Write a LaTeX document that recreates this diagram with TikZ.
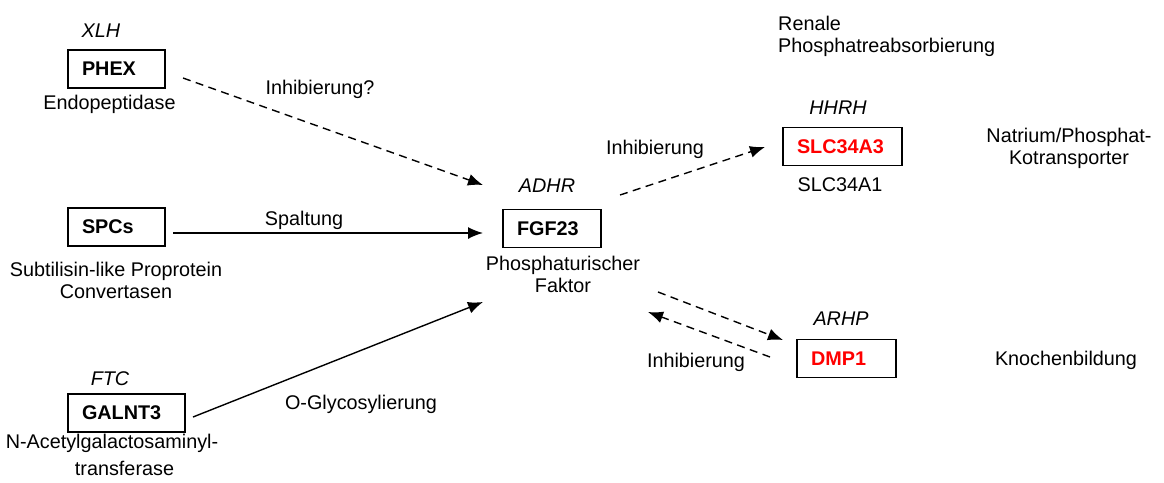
\documentclass[tikz,border=0pt]{standalone}
\usepackage{fontspec}
\setmainfont{Liberation Sans}
\usetikzlibrary{arrows.meta}

\definecolor{genred}{RGB}{255,0,0}

\tikzset{
  txt/.style={inner sep=0pt, anchor=base, font=\fontsize{19.8}{22}\selectfont},
  dis/.style={txt, font=\fontsize{19.8}{22}\selectfont\itshape},
  mtxt/.style={txt, align=center},
  genebox/.style={draw, line width=1.8pt, minimum height=38pt, inner xsep=14pt,
    inner ysep=0pt, align=left, font=\fontsize{19.8}{22}\selectfont\bfseries},
  act/.style={line width=1.4pt, -{Latex[length=15pt,width=12pt]}},
  inh/.style={act, dash pattern=on 8pt off 5.5pt},
}

\begin{document}
\begin{tikzpicture}[x=1pt, y=-1pt]
\useasboundingbox (0,0) rectangle (1164,482);

% gene boxes
\node[genebox, text width=69pt]  (phex)   at (116.5,69)  {PHEX};
\node[genebox, text width=69pt]  (spc)    at (116.5,227) {SPCs};
\node[genebox, text width=89pt]  (galnt)  at (126.5,413) {GALNT3};
\node[genebox, text width=70pt]  (fgf)    at (552,228.5) {FGF23};
\node[genebox, text width=91pt, text=genred] (slc) at (842.5,146.5) {SLC34A3};
\node[genebox, text width=71pt, text=genred] (dmp) at (846.5,358.5) {DMP1};

% disease names above the boxes
\node[dis] (xlh)  at (101,37)  {XLH};
\node[dis] (ftc)  at (110,385) {FTC};
\node[dis] (adhr) at (547,192) {ADHR};
\node[dis] (hhrh) at (838,114) {HHRH};
\node[dis] (arhp) at (841,325) {ARHP};

% descriptions below the boxes (multi-line nodes sit on their last baseline)
\node[txt]  (phexd)  at (109.5,109) {Endopeptidase};
\node[mtxt] (spcd)   at (116,298)   {Subtilisin-like Proprotein\\Convertasen};
\node[txt]  (galntd) at (112,448)   {N-Acetylgalactosaminyl-};
\node[txt]  (galnte) at (124.5,475) {transferase};
\node[mtxt] (fgfd)   at (563,292)   {Phosphaturischer\\Faktor};
\node[txt]  (slcd)   at (840,191)   {SLC34A1};

% function labels on the right
\node[txt, align=left, anchor=base west] (ren) at (778,52) {Renale\\Phosphatreabsorbierung};
\node[mtxt] (nap) at (1069,164) {Natrium/Phosphat-\\Kotransporter};
\node[txt]  (kno) at (1066,365) {Knochenbildung};

% connector ends
\coordinate (phexout)  at (183,78);
\coordinate (fgfinA)   at (483,185);
\coordinate (spcout)   at (173,233);
\coordinate (fgfinB)   at (483,233);
\coordinate (galntout) at (193,417);
\coordinate (fgfinC)   at (483,302);
\coordinate (fgfoutA)  at (620,195);
\coordinate (slcin)    at (765,147);
\coordinate (fgfoutB)  at (658,292);
\coordinate (dmpin)    at (783,340);
\coordinate (dmpout)   at (770,357);
\coordinate (fgfinD)   at (648,312);

% connectors
\draw[inh] (phexout)  -- (fgfinA);
\draw[act] (spcout)   -- (fgfinB);
\draw[act] (galntout) -- (fgfinC);
\draw[inh] (fgfoutA)  -- (slcin);
\draw[inh] (fgfoutB)  -- (dmpin);
\draw[inh] (dmpout)   -- (fgfinD);

% connector labels
\node[txt] (l1) at (320,94)  {Inhibierung?};
\node[txt] (l2) at (304,225) {Spaltung};
\node[txt] (l3) at (361,409) {O-Glycosylierung};
\node[txt] (l4) at (655,154) {Inhibierung};
\node[txt] (l5) at (696,367) {Inhibierung};
\end{tikzpicture}
\end{document}
